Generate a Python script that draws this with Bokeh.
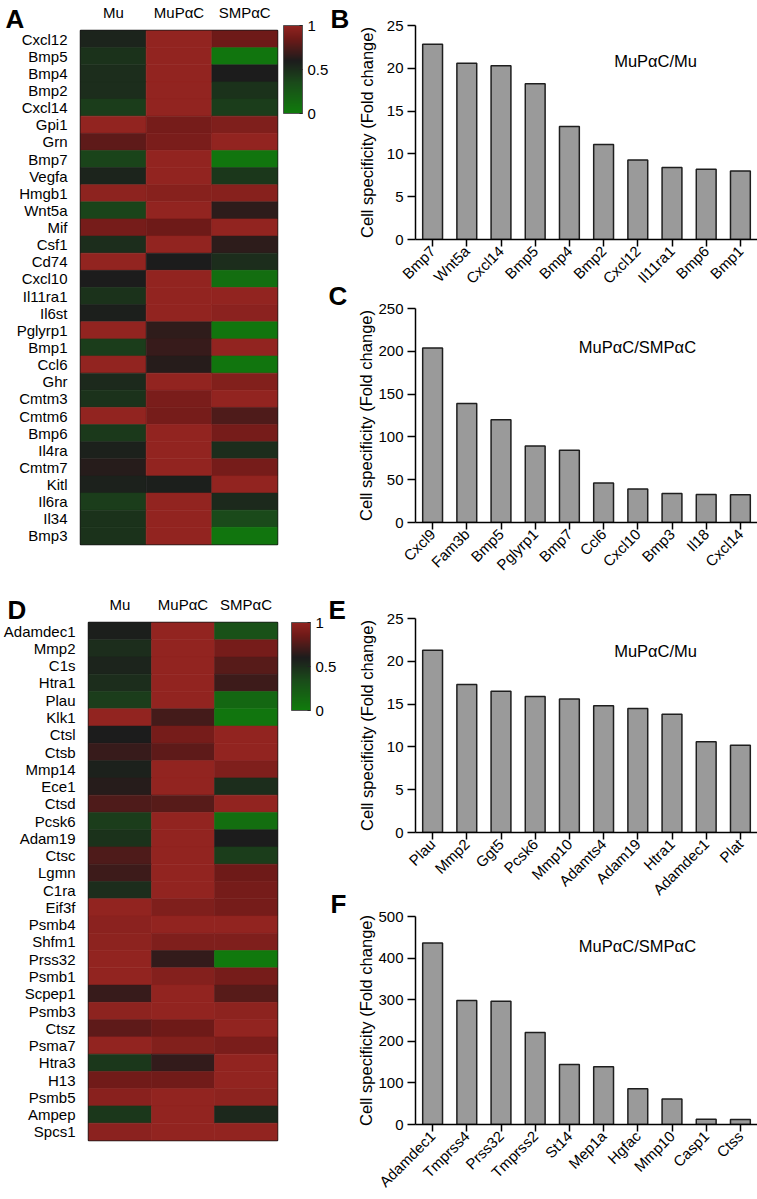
import math
from bokeh.plotting import figure
from bokeh.layouts import row, column
from bokeh.models import (ColumnDataSource, FactorRange, Range1d, LinearColorMapper,
                          ColorBar, FixedTicker, Label)
from bokeh.transform import transform
from bokeh.embed import file_html
from bokeh.resources import INLINE

FONT = "Liberation Sans"
CONDITIONS = ["Mu", "MuPαC", "SMPαC"]

# ---------------- Panel A heatmap (relative expression, 0..1) ----------------
genes_A = ["Cxcl12", "Bmp5", "Bmp4", "Bmp2", "Cxcl14", "Gpi1", "Grn", "Bmp7", "Vegfa",
           "Hmgb1", "Wnt5a", "Mif", "Csf1", "Cd74", "Cxcl10", "Il11ra1", "Il6st",
           "Pglyrp1", "Bmp1", "Ccl6", "Ghr", "Cmtm3", "Cmtm6", "Bmp6", "Il4ra", "Cmtm7",
           "Kitl", "Il6ra", "Il34", "Bmp3"]
mu_A = [0.55, 0.48, 0.50, 0.50, 0.42, 1.00, 0.80, 0.38, 0.55, 0.98, 0.38, 0.88, 0.50,
        1.00, 0.60, 0.48, 0.58, 1.00, 0.42, 1.00, 0.52, 0.48, 1.00, 0.44, 0.57, 0.63,
        0.57, 0.42, 0.48, 0.48]
mupac_A = [1.00, 1.00, 1.00, 1.00, 1.00, 0.88, 0.90, 1.00, 1.00, 0.95, 1.00, 0.85, 1.00,
           0.60, 1.00, 1.00, 1.00, 0.66, 0.68, 0.63, 1.00, 0.90, 0.88, 1.00, 1.00, 1.00,
           0.58, 1.00, 1.00, 1.00]
smpac_A = [0.85, 0.05, 0.60, 0.48, 0.42, 0.92, 1.00, 0.05, 0.45, 0.95, 0.65, 1.00, 0.65,
           0.50, 0.10, 1.00, 0.97, 0.05, 1.00, 0.05, 0.93, 1.00, 0.75, 0.88, 0.50, 0.88,
           1.00, 0.52, 0.35, 0.05]

# ---------------- Panel D heatmap ----------------
genes_D = ["Adamdec1", "Mmp2", "C1s", "Htra1", "Plau", "Klk1", "Ctsl", "Ctsb", "Mmp14",
           "Ece1", "Ctsd", "Pcsk6", "Adam19", "Ctsc", "Lgmn", "C1ra", "Eif3f", "Psmb4",
           "Shfm1", "Prss32", "Psmb1", "Scpep1", "Psmb3", "Ctsz", "Psma7", "Htra3", "H13",
           "Psmb5", "Ampep", "Spcs1"]
mu_D = [0.58, 0.50, 0.55, 0.50, 0.42, 1.00, 0.60, 0.68, 0.57, 0.63, 0.75, 0.42, 0.48,
        0.75, 0.70, 0.50, 1.00, 0.97, 0.98, 1.00, 1.00, 0.68, 0.98, 0.80, 1.00, 0.45,
        0.86, 0.96, 0.45, 0.97]
mupac_D = [1.00, 1.00, 1.00, 1.00, 1.00, 0.72, 0.88, 0.80, 1.00, 1.00, 0.78, 1.00, 1.00,
           1.00, 1.00, 1.00, 0.92, 1.00, 0.92, 0.67, 0.94, 1.00, 1.00, 0.85, 0.93, 0.67,
           0.86, 1.00, 1.00, 1.00]
smpac_D = [0.30, 0.88, 0.78, 0.70, 0.15, 0.05, 1.00, 1.00, 0.92, 0.50, 1.00, 0.10, 0.60,
           0.42, 0.85, 0.88, 0.88, 1.00, 0.92, 0.02, 0.88, 0.78, 0.98, 1.00, 0.90, 1.00,
           1.00, 0.98, 0.53, 1.00]

# ---------------- Bar charts (fold change) ----------------
B_genes = ["Bmp7", "Wnt5a", "Cxcl14", "Bmp5", "Bmp4", "Bmp2", "Cxcl12", "Il11ra1", "Bmp6", "Bmp1"]
B_fold = [22.8, 20.6, 20.3, 18.2, 13.2, 11.1, 9.3, 8.4, 8.2, 8.0]
C_genes = ["Cxcl9", "Fam3b", "Bmp5", "Pglyrp1", "Bmp7", "Ccl6", "Cxcl10", "Bmp3", "Il18", "Cxcl14"]
C_fold = [204, 139, 120, 89.5, 84.5, 46, 39, 34, 32.7, 32.3]
E_genes = ["Plau", "Mmp2", "Ggt5", "Pcsk6", "Mmp10", "Adamts4", "Adam19", "Htra1", "Adamdec1", "Plat"]
E_fold = [21.3, 17.3, 16.5, 15.9, 15.6, 14.8, 14.5, 13.8, 10.6, 10.2]
F_genes = ["Adamdec1", "Tmprss4", "Prss32", "Tmprss2", "St14", "Mep1a", "Hgfac", "Mmp10", "Casp1", "Ctss"]
F_fold = [436, 298, 296, 221, 144, 139, 86, 61.5, 12.5, 12]

Y_LABEL = "Cell specificity (Fold change)"

# colour scale green -> black -> red
ANCHORS = [(0.0, (16, 124, 12)), (0.35, (26, 74, 26)), (0.55, (28, 36, 28)),
           (0.60, (28, 28, 28)), (0.85, (110, 26, 24)), (1.0, (146, 36, 32))]


def make_palette(anchors, n=256):
    out = []
    for i in range(n):
        t = i / (n - 1)
        rgb = anchors[-1][1]
        for (t0, c0), (t1, c1) in zip(anchors[:-1], anchors[1:]):
            if t0 <= t <= t1:
                f = (t - t0) / (t1 - t0)
                rgb = tuple(round(a + (b - a) * f) for a, b in zip(c0, c1))
                break
        out.append("#%02x%02x%02x" % tuple(rgb))
    return out


mapper = LinearColorMapper(palette=make_palette(ANCHORS), low=0, high=1)

HM_W = 350          # width of the heatmap figures
BAR_W = 757 - HM_W  # width of the bar-chart figures


def letter(p, text, x, y):
    # panel letter, positioned in canvas pixels; kept in the (empty) right side panel
    p.add_layout(Label(x=x, y=y, x_units="canvas", y_units="canvas", text=text,
                       text_font=FONT, text_font_size="26px", text_font_style="bold",
                       text_color="black", text_baseline="alphabetic", text_align="left"),
                 "right")


def heatmap(genes, mu, mupac, smpac, height, top, frame_h):
    xs, ys, vs = [], [], []
    for g, a, b, c in zip(genes, mu, mupac, smpac):
        for cond, v in zip(CONDITIONS, (a, b, c)):
            xs.append(cond)
            ys.append(g)
            vs.append(v)
    src = ColumnDataSource(dict(x=xs, y=ys, v=vs))
    p = figure(width=HM_W, height=height, x_range=FactorRange(factors=CONDITIONS),
               y_range=FactorRange(factors=list(reversed(genes))), x_axis_location="above",
               toolbar_location=None, output_backend="svg",
               min_border_left=80, min_border_right=HM_W - 277, min_border_top=top,
               min_border_bottom=height - top - frame_h)
    p.rect(x="x", y="y", width=1, height=1, source=src,
           fill_color=transform("v", mapper), line_color=transform("v", mapper), line_width=0.6)
    p.grid.visible = False
    p.outline_line_color = "#1a1a1a"
    p.outline_line_width = 1.5
    for ax in (p.xaxis[0], p.yaxis[0]):
        ax.axis_line_color = None
        ax.major_tick_line_color = None
        ax.minor_tick_line_color = None
        ax.major_label_text_font = FONT
        ax.major_label_text_font_size = "15px"
        ax.major_label_text_color = "black"
    p.xaxis.major_label_standoff = 4
    p.yaxis.major_label_standoff = 7
    cb = ColorBar(color_mapper=mapper, ticker=FixedTicker(ticks=[0, 0.5, 1]),
                  major_label_overrides={0: "0", 0.5: "0.5", 1: "1"},
                  width=19, height=88, location=(203, frame_h - 88), padding=0,
                  label_standoff=5, major_label_text_font=FONT,
                  major_label_text_font_size="15px", major_label_text_color="black",
                  major_tick_line_color="#222222", major_tick_in=3, major_tick_out=0,
                  minor_tick_line_color=None, bar_line_color="#555555",
                  background_fill_color=None, border_line_color=None)
    p.add_layout(cb)
    return p


def bar_chart(genes, fold, ymax, step, note, note_x, note_y, height, top, frame_h, lab_standoff):
    p = figure(width=BAR_W, height=height, x_range=FactorRange(factors=genes),
               y_range=Range1d(0, ymax), toolbar_location=None, output_backend="svg",
               min_border_left=415 - HM_W, min_border_right=0, min_border_top=top,
               min_border_bottom=height - top - frame_h)
    p.vbar(x=genes, top=fold, bottom=0, width=0.58, fill_color="#9a9a9a",
           line_color="#1e1e1e", line_width=1.5)
    p.grid.visible = False
    p.outline_line_color = None
    p.yaxis.ticker = FixedTicker(ticks=list(range(0, ymax + 1, step)))
    p.yaxis.axis_label = Y_LABEL
    p.yaxis.axis_label_text_font = FONT
    p.yaxis.axis_label_text_font_size = "16.5px"
    p.yaxis.axis_label_text_font_style = "normal"
    p.yaxis.axis_label_text_color = "black"
    p.yaxis.axis_label_standoff = lab_standoff
    p.yaxis.major_tick_out = 8
    p.yaxis.major_label_standoff = 4
    p.xaxis.major_tick_out = 7
    p.xaxis.major_label_standoff = 2
    p.xaxis.major_label_orientation = math.pi / 4
    for ax in (p.xaxis[0], p.yaxis[0]):
        ax.axis_line_color = "black"
        ax.axis_line_width = 1.5
        ax.major_tick_line_color = "black"
        ax.major_tick_line_width = 1.5
        ax.major_tick_in = 0
        ax.minor_tick_line_color = None
        ax.major_label_text_font = FONT
        ax.major_label_text_font_size = "15px"
        ax.major_label_text_color = "black"
    p.add_layout(Label(x=note_x, y=note_y, text=note, text_font=FONT,
                       text_font_size="16.5px", text_color="black",
                       text_align="center", text_baseline="middle"))
    return p


# top half
pA = heatmap(genes_A, mu_A, mupac_A, smpac_A, height=588, top=25, frame_h=519)
letter(pA, "A", 5, 18)
letter(pA, "B", 330, 18)
letter(pA, "C", 328, 295)
pB = bar_chart(B_genes, B_fold, 25, 5, "MuPαC/Mu", 7.02, 20.8,
               height=299, top=25, frame_h=214, lab_standoff=8)
pC = bar_chart(C_genes, C_fold, 250, 50, "MuPαC/SMPαC", 6.49, 205,
               height=289, top=9, frame_h=214, lab_standoff=0)

# bottom half
pD = heatmap(genes_D, mu_D, mupac_D, smpac_D, height=611, top=34, frame_h=518)
letter(pD, "D", 7, 21)
letter(pD, "E", 328, 21)
letter(pD, "F", 330, 315)
pE = bar_chart(E_genes, E_fold, 25, 5, "MuPαC/Mu", 7.02, 21.2,
               height=319, top=30, frame_h=215, lab_standoff=8)
pF = bar_chart(F_genes, F_fold, 500, 100, "MuPαC/SMPαC", 6.49, 428,
               height=292, top=9, frame_h=211, lab_standoff=0)

layout = column(row(pA, column(pB, pC)), row(pD, column(pE, pF)))

open("out.html", "w").write(file_html(layout, INLINE))
